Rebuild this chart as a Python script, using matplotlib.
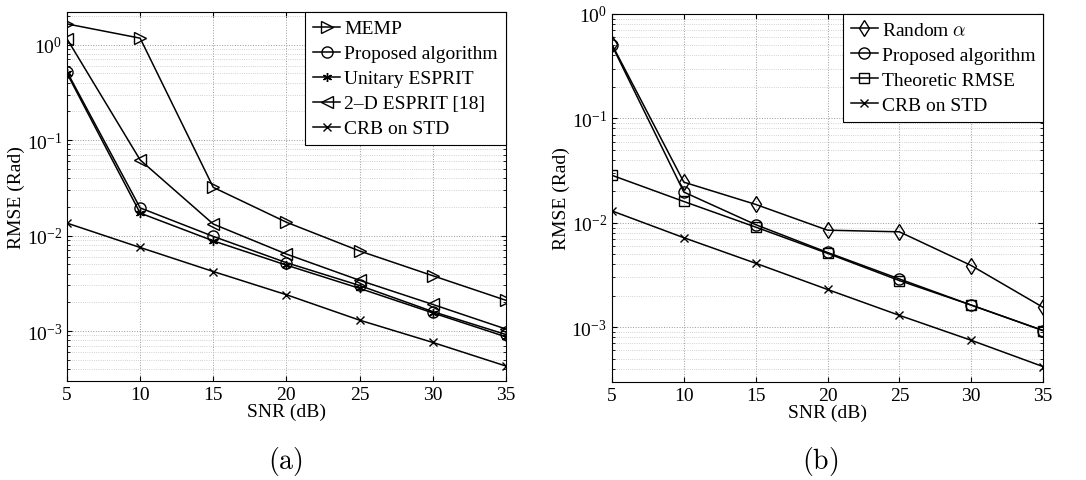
import matplotlib
matplotlib.use('Agg')
import matplotlib.pyplot as plt
from matplotlib.ticker import LogLocator, NullFormatter

plt.rcParams['font.family'] = ['Liberation Serif', 'DejaVu Serif']
plt.rcParams['mathtext.fontset'] = 'cm'

snr = [5, 10, 15, 20, 25, 30, 35]

# panel (a)
memp = [1.65, 1.17, 0.032, 0.0138, 0.0069, 0.0038, 0.0021]
proposed_a = [0.52, 0.0195, 0.0098, 0.0052, 0.0030, 0.0016, 0.00092]
unitary = [0.50, 0.0172, 0.0088, 0.0049, 0.0028, 0.00155, 0.00087]
esprit2d = [1.15, 0.062, 0.0132, 0.0064, 0.0034, 0.0019, 0.00105]
crb = [0.0135, 0.0075, 0.0042, 0.0024, 0.0013, 0.00076, 0.00043]

# panel (b)
random_alpha = [0.51, 0.0245, 0.015, 0.0085, 0.0082, 0.0039, 0.00155]
proposed_b = [0.50, 0.0197, 0.0096, 0.0052, 0.0029, 0.00163, 0.00093]
theoretic = [0.0285, 0.016, 0.0091, 0.0051, 0.0028, 0.00163, 0.00093]
crb_b = [0.013, 0.0072, 0.0041, 0.0023, 0.0013, 0.00075, 0.00042]

fig = plt.figure(figsize=(10.86, 4.81), dpi=100)
ax1 = fig.add_axes([0.0617, 0.206, 0.404, 0.767])
ax2 = fig.add_axes([0.5635, 0.204, 0.397, 0.765])

style = dict(color='black', linewidth=1.1, markerfacecolor='none',
             markeredgecolor='black', markersize=8, markeredgewidth=1.0)

ax1.semilogy(snr, memp, marker='>', label='MEMP', **style)
ax1.semilogy(snr, proposed_a, marker='o', label='Proposed algorithm', **style)
ax1.semilogy(snr, unitary, marker=(6, 2, 0), label='Unitary ESPRIT', **{**style, 'markersize': 6.5})
ax1.semilogy(snr, esprit2d, marker='<', label='2\u2013D ESPRIT [18]', **style)
ax1.semilogy(snr, crb, marker='x', label='CRB on STD', **{**style, 'markersize': 6})
ax1.set_ylim(3e-4, 2.2)

ax2.semilogy(snr, random_alpha, marker='d', label=r'Random $\alpha$', **style)
ax2.semilogy(snr, proposed_b, marker='o', label='Proposed algorithm', **style)
ax2.semilogy(snr, theoretic, marker='s', label='Theoretic RMSE', **{**style, 'markersize': 6.5})
ax2.semilogy(snr, crb_b, marker='x', label='CRB on STD', **{**style, 'markersize': 6})
ax2.set_ylim(3e-4, 1)

for ax in (ax1, ax2):
    ax.set_xlim(5, 35)
    ax.set_xticks(snr)
    ax.yaxis.set_major_locator(LogLocator(base=10, numticks=10))
    ax.yaxis.set_minor_locator(LogLocator(base=10, subs=range(2, 10), numticks=20))
    ax.yaxis.set_minor_formatter(NullFormatter())
    ax.grid(True, which='major', linestyle=':', color='#999999', linewidth=0.7)
    ax.grid(True, which='minor', axis='y', linestyle=':', color='#c4c4c4', linewidth=0.6)
    ax.tick_params(which='both', direction='in', top=True, right=True, labelsize=14)
    ax.set_xlabel('SNR (dB)', fontsize=14, labelpad=0)
    ax.set_ylabel('RMSE (Rad)', fontsize=14, labelpad=1)
    leg = ax.legend(loc='upper right', borderaxespad=0, fontsize=14,
                    handlelength=1.4, handletextpad=0.2, labelspacing=0.38,
                    borderpad=0.4, fancybox=False, framealpha=1)
    leg.get_frame().set_edgecolor('black')
    leg.get_frame().set_linewidth(0.8)

fig.text(0.263, 0.025, r'$\mathrm{(a)}$', ha='center', fontsize=20)
fig.text(0.755, 0.025, r'$\mathrm{(b)}$', ha='center', fontsize=20)

fig.savefig('out.png', dpi=100)
